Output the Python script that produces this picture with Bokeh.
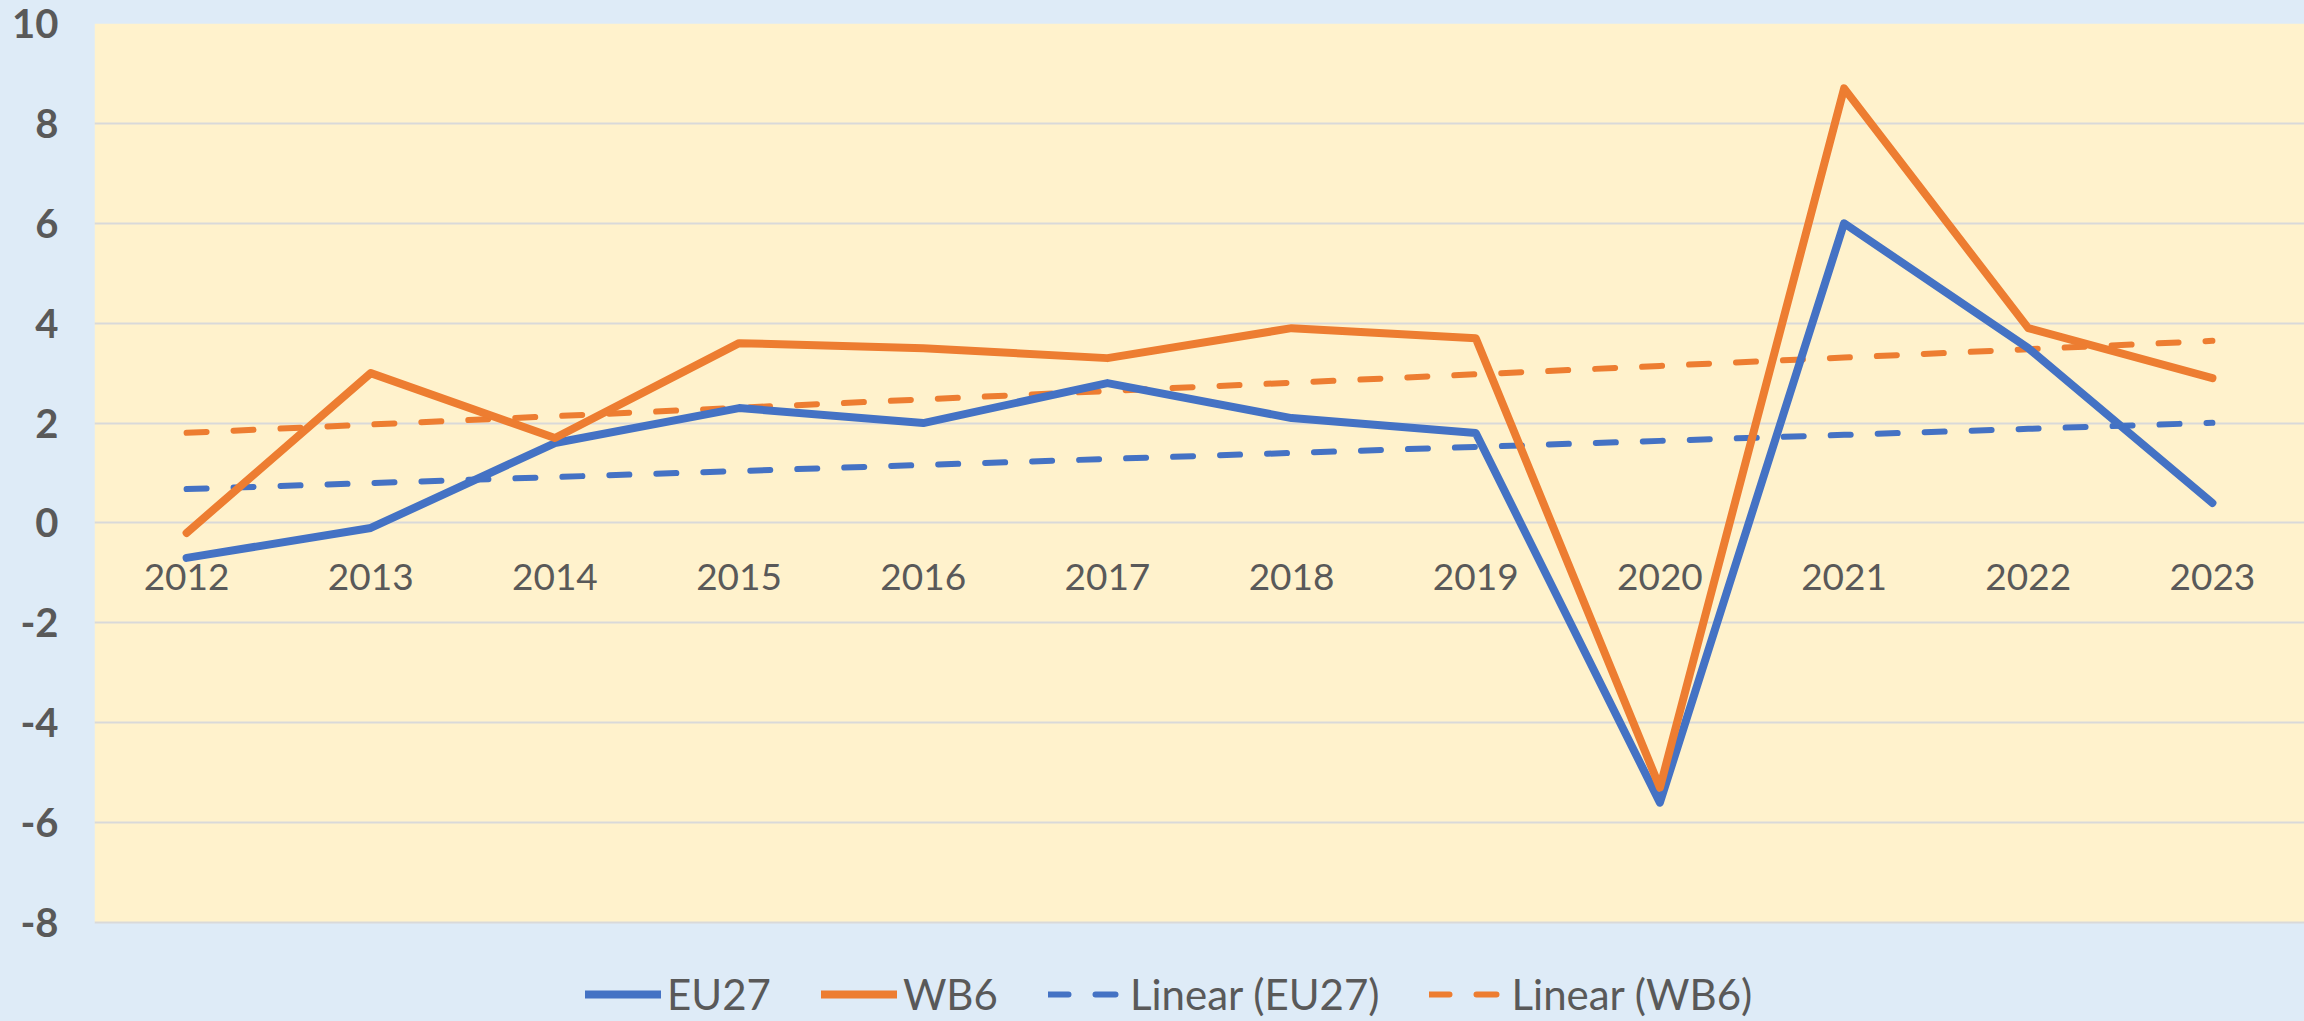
import numpy as np
from bokeh.plotting import figure
from bokeh.models import (FactorRange, Legend, LegendItem, SingleIntervalTicker,
                          PrintfTickFormatter, BoxAnnotation)
from bokeh.embed import file_html
from bokeh.resources import INLINE

years = ["2012", "2013", "2014", "2015", "2016", "2017", "2018", "2019", "2020", "2021", "2022", "2023"]
eu27 = [-0.7, -0.1, 1.6, 2.3, 2.0, 2.8, 2.1, 1.8, -5.6, 6.0, 3.5, 0.4]
wb6 = [-0.2, 3.0, 1.7, 3.6, 3.5, 3.3, 3.9, 3.7, -5.3, 8.7, 3.9, 2.9]
series_names = ["EU27", "WB6", "Linear (EU27)", "Linear (WB6)"]
y_min, y_max = -8, 10

# Linear trendlines (least squares fit, as in the original chart)
idx = np.arange(len(years))
eu_fit = np.polyval(np.polyfit(idx, eu27, 1), idx)
wb_fit = np.polyval(np.polyfit(idx, wb6, 1), idx)

BLUE = "#4472C4"
ORANGE = "#ED7D31"
TEXT = "#595959"
PAGE_BG = "#DEEBF7"
PLOT_BG = "#FFF2CC"
FONT = "Lato"

# layout (pixels): plot area from y=23 to y=922; legend strip below it
W, H = 2304, 1021
TOP, PLOT_BOTTOM, LEFT = 23, 922, 94
units_per_px = (y_max - y_min) / (PLOT_BOTTOM - TOP)
y_low = y_min - (H - PLOT_BOTTOM) * units_per_px   # extend frame to cover legend strip

p = figure(x_range=FactorRange(*years), y_range=(y_low, y_max),
           width=W, height=H, output_backend="svg", toolbar_location=None,
           min_border_left=LEFT, min_border_right=0, min_border_top=TOP, min_border_bottom=0)
p.background_fill_color = PAGE_BG
p.border_fill_color = PAGE_BG
p.outline_line_color = None
p.styles = {"background-color": PAGE_BG}

# grid
p.xgrid.grid_line_color = None
p.ygrid.grid_line_color = "#D9D9D9"
p.ygrid.grid_line_width = 2

# y axis
p.yaxis.ticker = SingleIntervalTicker(interval=2)
p.yaxis.formatter = PrintfTickFormatter(format="%d")
p.yaxis.axis_line_color = None
p.yaxis.major_tick_line_color = None
p.yaxis.minor_tick_line_color = None
p.yaxis.major_tick_out = 0
p.yaxis.major_tick_in = 0
p.yaxis.major_label_text_font = FONT
p.yaxis.major_label_text_font_style = "bold"
p.yaxis.major_label_text_font_size = "40px"
p.yaxis.major_label_text_color = TEXT
p.yaxis.major_label_standoff = 32

# x axis crossing at 0
p.xaxis.fixed_location = 0
p.xaxis.axis_line_color = None
p.xaxis.major_tick_line_color = None
p.xaxis.minor_tick_line_color = None
p.xaxis.major_tick_out = 0
p.xaxis.major_tick_in = 0
p.xaxis.major_label_text_font = FONT
p.xaxis.major_label_text_font_size = "37px"
p.xaxis.major_label_text_color = TEXT
p.xaxis.major_label_standoff = 41

# plot area (light gold) above y_min; below it the page colour shows
plot_area = BoxAnnotation(bottom=y_min, fill_color=PLOT_BG, fill_alpha=1, line_color=None, level="underlay")

r_eu = p.line(years, eu27, line_color=BLUE, line_width=8, line_join="round", line_cap="round")
r_wb = p.line(years, wb6, line_color=ORANGE, line_width=8, line_join="round", line_cap="round")
r_eut = p.line(years, eu_fit, line_color=BLUE, line_width=6, line_dash="20 27", line_cap="round")
r_wbt = p.line(years, wb_fit, line_color=ORANGE, line_width=6, line_dash="20 27", line_cap="round")
p.renderers = [plot_area, r_eut, r_wbt, r_eu, r_wb]

legend = Legend(items=[LegendItem(label=series_names[0], renderers=[r_eu]),
                       LegendItem(label=series_names[1], renderers=[r_wb]),
                       LegendItem(label=series_names[2], renderers=[r_eut]),
                       LegendItem(label=series_names[3], renderers=[r_wbt])],
                orientation="horizontal", location=(491, 2),
                background_fill_alpha=0, border_line_color=None,
                label_text_font=FONT, label_text_font_size="42px", label_text_color=TEXT,
                glyph_width=76, glyph_height=40, label_standoff=6, spacing=50,
                padding=0, margin=0)
p.add_layout(legend, "center")

open("out.html", "w").write(file_html(p, INLINE))
